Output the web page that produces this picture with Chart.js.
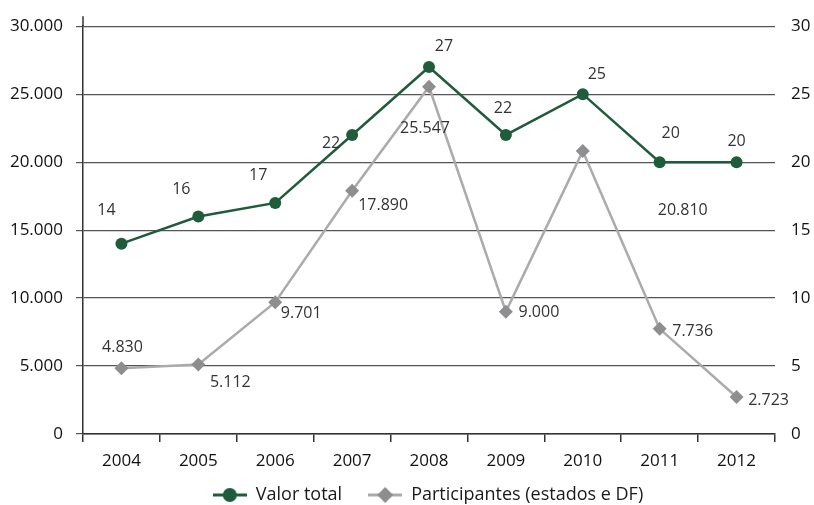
<!DOCTYPE html>
<html>
<head>
<meta charset="utf-8">
<script src="https://cdn.jsdelivr.net/npm/chart.js@4/dist/chart.umd.min.js"></script>
<style>
  html, body { margin: 0; padding: 0; background: #fff; }
  #wrap { width: 814px; height: 505px; }
</style>
</head>
<body>
<div id="wrap"><canvas id="chart" width="814" height="505"></canvas></div>
<script>
// data
const years = ["2004", "2005", "2006", "2007", "2008", "2009", "2010", "2011", "2012"];
const valorTotal = [14, 16, 17, 22, 27, 22, 25, 20, 20];
const participantes = [4830, 5112, 9701, 17890, 25547, 9000, 20810, 7736, 2723];
const leftTicks = [0, 5000, 10000, 15000, 20000, 25000, 30000];
const rightTicks = [0, 5, 10, 15, 20, 25, 30];

// label offsets (px) from each point, as placed in the original
const greenLabelOffsets = [[-15, -33], [-17, -27], [-17, -27], [-21, 8], [15, -21], [-3, -27], [14, -20], [11, -29], [0, -21]];
const grayLabelOffsets = [[1, -21], [32, 18], [26, 11], [31, 15], [-4, 42], [33, 1], [100, 59], [33, 3], [32, 3]];

const GREEN = "#1f5c3b";
const GRAY_LINE = "#ababab";
const GRAY_MARK = "#8e8e90";
const FONT = "'Open Sans', 'Noto Sans', sans-serif";

function fmt(v) {
    return String(v).replace(/\B(?=(\d{3})+(?!\d))/g, ".");
}

// legend symbols: line with marker in the middle
function legendSymbol(color, markColor, shape) {
    const c = document.createElement("canvas");
    c.width = 34; c.height = 16;
    const g = c.getContext("2d");
    g.strokeStyle = color;
    g.lineWidth = 3;
    g.beginPath(); g.moveTo(0, 8); g.lineTo(34, 8); g.stroke();
    g.fillStyle = markColor;
    g.beginPath();
    if (shape === "circle") {
        g.arc(17, 8, 7, 0, Math.PI * 2);
    } else {
        g.moveTo(17, 0); g.lineTo(25, 8); g.lineTo(17, 16); g.lineTo(9, 8); g.closePath();
    }
    g.fill();
    return c;
}

const labelPlugin = {
    id: "pointLabels",
    afterDatasetsDraw(chart) {
        const ctx = chart.ctx;
        ctx.save();
        ctx.font = "16px " + FONT;
        ctx.fillStyle = "#333";
        ctx.textAlign = "center";
        ctx.textBaseline = "middle";
        chart.getDatasetMeta(0).data.forEach((pt, i) => {
            const o = grayLabelOffsets[i];
            ctx.fillText(fmt(participantes[i]), pt.x + o[0], pt.y + o[1]);
        });
        chart.getDatasetMeta(1).data.forEach((pt, i) => {
            const o = greenLabelOffsets[i];
            ctx.fillText(fmt(valorTotal[i]), pt.x + o[0], pt.y + o[1]);
        });
        ctx.restore();
    }
};

// left axis line runs a little above the top gridline
const axisExtend = {
    id: "axisExtend",
    afterDraw(chart) {
        const a = chart.chartArea;
        const ctx = chart.ctx;
        ctx.save();
        ctx.strokeStyle = "#333";
        ctx.lineWidth = 1.5;
        ctx.beginPath();
        ctx.moveTo(a.left, a.top - 10);
        ctx.lineTo(a.left, a.top);
        ctx.stroke();
        ctx.restore();
    }
};

// legend: wide gap between items but compact height
const legendFit = {
    id: "legendFit",
    beforeLayout(chart) {
        const lg = chart.legend;
        if (lg && !lg._patched) {
            const orig = lg.fit.bind(lg);
            lg.fit = function () { orig(); this.height = 36; };
            lg._patched = true;
        }
    },
    afterLayout(chart) {
        const lg = chart.legend;
        lg.left += 21; lg.right += 21;
        lg.top -= 9;
    }
};

new Chart(document.getElementById("chart"), {
    type: "line",
    data: {
        labels: years,
        datasets: [
            {
                label: "Participantes (estados e DF)",
                data: participantes,
                yAxisID: "y",
                borderColor: GRAY_LINE,
                backgroundColor: GRAY_MARK,
                borderWidth: 2.5,
                pointStyle: "rectRot",
                pointRadius: 7,
                pointBorderWidth: 0,
                pointBackgroundColor: GRAY_MARK,
                tension: 0,
                order: 2
            },
            {
                label: "Valor total",
                data: valorTotal,
                yAxisID: "y1",
                borderColor: GREEN,
                backgroundColor: GREEN,
                borderWidth: 2.5,
                pointStyle: "circle",
                pointRadius: 6,
                pointBorderWidth: 0,
                pointBackgroundColor: GREEN,
                tension: 0,
                order: 1
            }
        ]
    },
    options: {
        responsive: false,
        animation: false,
        layout: { padding: { top: 26, left: 0, right: 0, bottom: 0 } },
        plugins: {
            tooltip: { enabled: false },
            legend: {
                position: "bottom",
                labels: {
                    usePointStyle: true,
                    pointStyleWidth: 34,
                    padding: 26,
                    color: "#1a1a1a",
                    font: { size: 18, family: FONT },
                    generateLabels() {
                        return [
                            { text: "Valor total", pointStyle: legendSymbol(GREEN, GREEN, "circle"), datasetIndex: 1, fontColor: "#1a1a1a", lineWidth: 0, strokeStyle: "transparent", fillStyle: GREEN },
                            { text: "Participantes (estados e DF)", pointStyle: legendSymbol(GRAY_LINE, GRAY_MARK, "diamond"), datasetIndex: 0, fontColor: "#1a1a1a", lineWidth: 0, strokeStyle: "transparent", fillStyle: GRAY_MARK }
                        ];
                    }
                }
            }
        },
        scales: {
            x: {
                offset: true,
                grid: { display: true, offset: true, drawOnChartArea: false, drawTicks: true, tickLength: 8, color: "#333", lineWidth: 1.5 },
                border: { display: true, color: "#333", width: 1.5 },
                ticks: { color: "#111", font: { size: 17, family: FONT }, padding: 9, maxRotation: 0 },
                afterFit(scale) { scale.height = 35; }
            },
            y: {
                position: "left",
                min: 0, max: 30000,
                afterBuildTicks(scale) { scale.ticks = leftTicks.map(v => ({ value: v })); },
                grid: { color: "#555", lineWidth: 1.2, tickLength: 7, drawTicks: true },
                border: { display: true, color: "#333", width: 1.5 },
                ticks: { color: "#111", font: { size: 17, family: FONT }, padding: 13, callback: v => fmt(v) },
                afterFit(scale) { scale.width = 83; }
            },
            y1: {
                position: "right",
                min: 0, max: 30,
                afterBuildTicks(scale) { scale.ticks = rightTicks.map(v => ({ value: v })); },
                grid: { drawOnChartArea: false, drawTicks: false },
                border: { display: false },
                ticks: { color: "#111", font: { size: 17, family: FONT }, padding: 16, callback: v => fmt(v) },
                afterFit(scale) { scale.width = 39; }
            }
        }
    },
    plugins: [labelPlugin, axisExtend, legendFit]
});
</script>
</body>
</html>
